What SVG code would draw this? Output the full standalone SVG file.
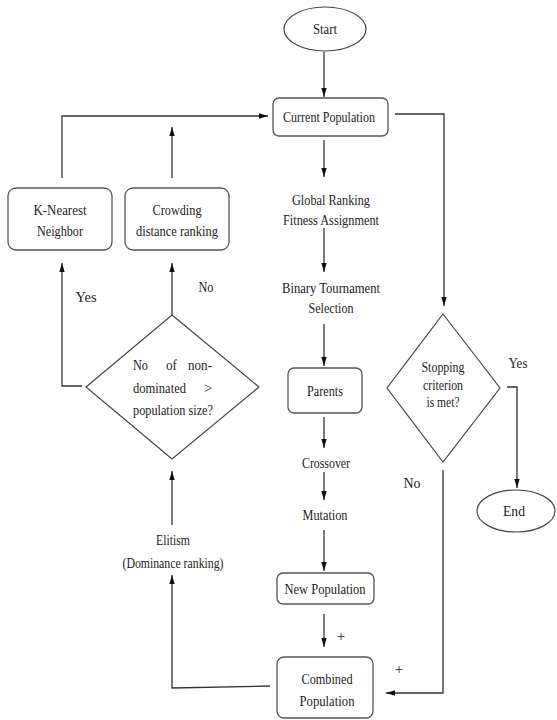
<svg xmlns="http://www.w3.org/2000/svg" width="557" height="720" viewBox="0 0 557 720">
<style>
.box{fill:#fff;stroke:#555;stroke-width:1.3}
.shape{fill:#fff;stroke:#444;stroke-width:1.2}
.t{font-family:"Liberation Serif","Times New Roman",serif;font-size:15px;fill:#222;text-anchor:middle}
.tl{font-family:"Liberation Serif","Times New Roman",serif;font-size:15px;fill:#222}
.c{fill:none;stroke:#333;stroke-width:1.3}
</style>
<defs>
<marker id="arr" viewBox="0 0 10 10" refX="10" refY="5" markerWidth="9" markerHeight="9" markerUnits="userSpaceOnUse" orient="auto">
<path d="M0,2 L10,5 L0,8 z" fill="#111"/>
</marker>
</defs>
<rect width="557" height="720" fill="#fff"/>

<g id="connectors">
<line class="c" x1="324" y1="52" x2="324" y2="97" marker-end="url(#arr)"/>
<polyline class="c" points="395,114 444,114 444,306" marker-end="url(#arr)"/>
<line class="c" x1="324" y1="140" x2="324" y2="177" marker-end="url(#arr)"/>
<line class="c" x1="324" y1="228" x2="324" y2="272" marker-end="url(#arr)"/>
<line class="c" x1="324" y1="324" x2="324" y2="366" marker-end="url(#arr)"/>
<line class="c" x1="324" y1="417" x2="324" y2="448" marker-end="url(#arr)"/>
<line class="c" x1="324" y1="472" x2="324" y2="500" marker-end="url(#arr)"/>
<line class="c" x1="324" y1="530" x2="324" y2="571" marker-end="url(#arr)"/>
<line class="c" x1="324" y1="614" x2="324" y2="647" marker-end="url(#arr)"/>
<polyline class="c" points="270,686 172,688 172,575" marker-end="url(#arr)"/>
<line class="c" x1="172" y1="525" x2="172" y2="471" marker-end="url(#arr)"/>
<polyline class="c" points="82,386 62,386 62,263" marker-end="url(#arr)"/>
<line class="c" x1="172" y1="315" x2="172" y2="263" marker-end="url(#arr)"/>
<polyline class="c" points="62,178 62,116 268,116" marker-end="url(#arr)"/>
<line class="c" x1="172" y1="178" x2="172" y2="127" marker-end="url(#arr)"/>
<polyline class="c" points="507,387 517,387 517,488" marker-end="url(#arr)"/>
<polyline class="c" points="443,470 443,693 386,693" marker-end="url(#arr)"/>
</g>

<g id="start">
<ellipse class="shape" cx="325" cy="29" rx="41" ry="22"/>
<text class="t" x="325" y="34" textLength="24" lengthAdjust="spacingAndGlyphs">Start</text>
</g>

<g id="current-population">
<rect class="box" x="273" y="98" width="115" height="38" rx="6"/>
<text class="t" x="329" y="122" textLength="92" lengthAdjust="spacingAndGlyphs">Current Population</text>
</g>

<g id="global-ranking">
<text class="t" x="331" y="205" textLength="78" lengthAdjust="spacingAndGlyphs">Global Ranking</text>
<text class="t" x="331" y="225" textLength="96" lengthAdjust="spacingAndGlyphs">Fitness Assignment</text>
</g>

<g id="binary-tournament">
<text class="t" x="331" y="293" textLength="98" lengthAdjust="spacingAndGlyphs">Binary Tournament</text>
<text class="t" x="331" y="313" textLength="45" lengthAdjust="spacingAndGlyphs">Selection</text>
</g>

<g id="parents">
<rect class="box" x="288" y="368" width="74" height="45" rx="6"/>
<text class="t" x="325" y="396" textLength="36" lengthAdjust="spacingAndGlyphs">Parents</text>
</g>

<g id="crossover">
<text class="t" x="326" y="468" textLength="48" lengthAdjust="spacingAndGlyphs">Crossover</text>
</g>

<g id="mutation">
<text class="t" x="325" y="520" textLength="45" lengthAdjust="spacingAndGlyphs">Mutation</text>
</g>

<g id="new-population">
<rect class="box" x="277" y="573" width="97" height="31" rx="6"/>
<text class="t" x="325" y="594" textLength="81" lengthAdjust="spacingAndGlyphs">New Population</text>
<text class="t" x="341" y="641">+</text>
</g>

<g id="combined-population">
<rect class="box" x="277" y="657" width="96" height="61" rx="7"/>
<text class="t" x="327" y="684" textLength="51" lengthAdjust="spacingAndGlyphs">Combined</text>
<text class="t" x="327" y="706" textLength="55" lengthAdjust="spacingAndGlyphs">Population</text>
<text class="t" x="399" y="674">+</text>
</g>

<g id="elitism">
<text class="t" x="173" y="545" textLength="34" lengthAdjust="spacingAndGlyphs">Elitism</text>
<text class="t" x="173" y="568" textLength="101" lengthAdjust="spacingAndGlyphs">(Dominance ranking)</text>
</g>

<g id="nondominated-decision">
<polygon class="shape" points="172,315 259,387 172,459 86,387"/>
<text class="tl" x="133" y="370" textLength="15" lengthAdjust="spacingAndGlyphs">No</text>
<text class="tl" x="166" y="370" textLength="11" lengthAdjust="spacingAndGlyphs">of</text>
<text class="tl" x="188" y="370" textLength="24" lengthAdjust="spacingAndGlyphs">non-</text>
<text class="tl" x="133" y="393" textLength="53" lengthAdjust="spacingAndGlyphs">dominated</text>
<text class="tl" x="204" y="393">&gt;</text>
<text class="tl" x="133" y="415" textLength="80" lengthAdjust="spacingAndGlyphs">population size?</text>
<text class="t" x="86" y="302" textLength="21" lengthAdjust="spacingAndGlyphs">Yes</text>
<text class="t" x="206" y="292" textLength="15" lengthAdjust="spacingAndGlyphs">No</text>
</g>

<g id="k-nearest">
<rect class="box" x="8" y="188" width="104" height="62" rx="8"/>
<text class="t" x="60" y="215" textLength="53" lengthAdjust="spacingAndGlyphs">K-Nearest</text>
<text class="t" x="60" y="236" textLength="46" lengthAdjust="spacingAndGlyphs">Neighbor</text>
</g>

<g id="crowding">
<rect class="box" x="125" y="188" width="104" height="62" rx="8"/>
<text class="t" x="177" y="215" textLength="49" lengthAdjust="spacingAndGlyphs">Crowding</text>
<text class="t" x="177" y="236" textLength="82" lengthAdjust="spacingAndGlyphs">distance ranking</text>
</g>

<g id="stopping-decision">
<polygon class="shape" points="443,314 500,388 443,462 387,388"/>
<text class="t" x="443" y="372" textLength="43" lengthAdjust="spacingAndGlyphs">Stopping</text>
<text class="t" x="443" y="390" textLength="40" lengthAdjust="spacingAndGlyphs">criterion</text>
<text class="t" x="443" y="407" textLength="33" lengthAdjust="spacingAndGlyphs">is met?</text>
<text class="t" x="518" y="368" textLength="19" lengthAdjust="spacingAndGlyphs">Yes</text>
<text class="t" x="412" y="488" textLength="17" lengthAdjust="spacingAndGlyphs">No</text>
</g>

<g id="end">
<ellipse class="shape" cx="516" cy="511" rx="39" ry="21"/>
<text class="t" x="514" y="516" textLength="22" lengthAdjust="spacingAndGlyphs">End</text>
</g>
</svg>
